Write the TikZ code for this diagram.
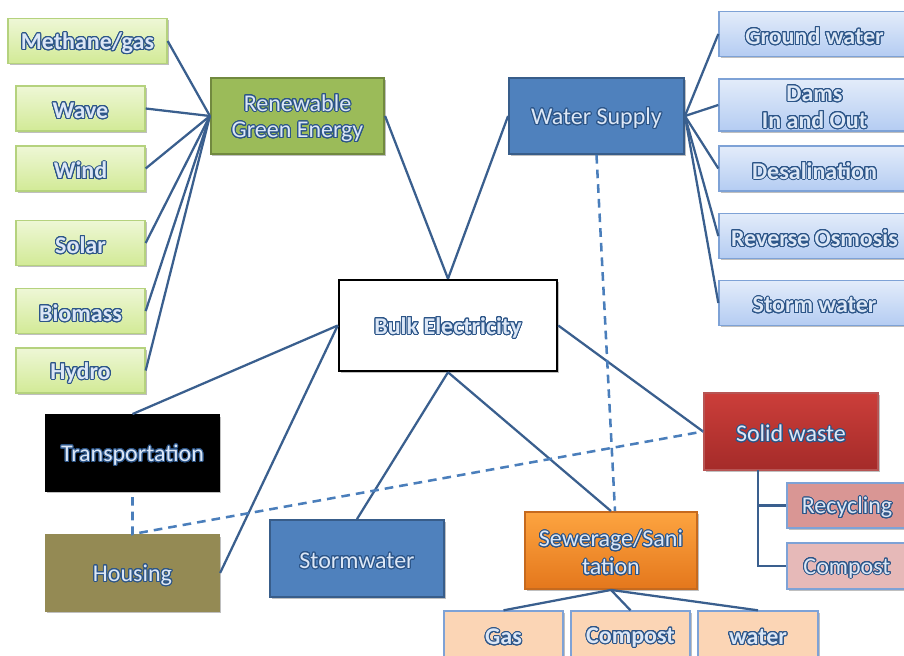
\documentclass[tikz,border=0pt]{standalone}
\usepackage{fontspec}
\setmainfont{Carlito}
\usepackage{contour}
\usetikzlibrary{shadows}
\contourlength{0.75pt}
\contournumber{24}

\definecolor{linkblue}{HTML}{3A5F8E}
\definecolor{dashblue}{HTML}{4A7EBB}
\definecolor{txtedge}{HTML}{2C5588}
\definecolor{txtfill}{HTML}{DCE7F6}
\definecolor{greenD}{HTML}{9BBB59}
\definecolor{greenDb}{HTML}{71893F}
\definecolor{greenLt}{HTML}{EEF7D6}
\definecolor{greenLb}{HTML}{D2EA96}
\definecolor{greenLe}{HTML}{B5D27E}
\definecolor{blueD}{HTML}{4F81BD}
\definecolor{blueDb}{HTML}{385D8A}
\definecolor{blueLt}{HTML}{E3ECFA}
\definecolor{blueLb}{HTML}{B4CCF2}
\definecolor{blueLe}{HTML}{7EA2D6}
\definecolor{olive}{HTML}{948A54}
\definecolor{redT}{HTML}{CB3E3A}
\definecolor{redB}{HTML}{A52B29}
\definecolor{orangeT}{HTML}{FDA440}
\definecolor{orangeB}{HTML}{E4771C}
\definecolor{orangeE}{HTML}{C66A1E}
\definecolor{pinkD}{HTML}{D99694}
\definecolor{pinkL}{HTML}{E6B9B8}
\definecolor{peach}{HTML}{FBD5B5}

% outlined label text, drawn a little low while keeping its box size
\newcommand\ctext[1]{\raisebox{-2pt}[\height][\depth]{\contour{txtedge}{\textcolor{txtfill}{#1}}}}

\tikzset{
  box/.style={rectangle, inner sep=0pt, align=center,
    font=\fontsize{18}{22}\selectfont,
    drop shadow={shadow xshift=1.2pt, shadow yshift=-1.2pt, opacity=0.25, fill=black}},
  lightbox/.style={box, font=\fontsize{18}{22}\selectfont\bfseries},
  greenleaf/.style={lightbox, top color=greenLt, bottom color=greenLb, draw=greenLe, line width=1pt,
    minimum width=96.75pt, minimum height=33.75pt},
  blueleaf/.style={lightbox, top color=blueLt, bottom color=blueLb, draw=blueLe, line width=1pt,
    minimum width=143.25pt, minimum height=33.75pt},
  hubbox/.style={box, line width=1.4pt, minimum width=130pt, minimum height=57pt},
  peachbox/.style={lightbox, fill=peach, draw=blueLe, line width=1pt,
    minimum width=90pt, minimum height=36pt},
  link/.style={draw=linkblue, line width=1.7pt},
  dlink/.style={draw=dashblue, line width=1.9pt, dash pattern=on 6.5pt off 4.5pt},
}

\begin{document}
\begin{tikzpicture}[x=0.75pt, y=-0.75pt]
\useasboundingbox (0,0) rectangle (904,656);

% renewable sources
\node[greenleaf, minimum width=119.25pt] (meth) at (87.5,41) {\ctext{Methane/gas}};
\node[greenleaf] (wave) at (80.5,108.5) {\ctext{Wave}};
\node[greenleaf] (wind) at (80.5,168.5) {\ctext{Wind}};
\node[greenleaf] (solar) at (80.5,243) {\ctext{Solar}};
\node[greenleaf] (bio) at (80.5,311) {\ctext{Biomass}};
\node[greenleaf] (hydro) at (80.5,370.5) {\ctext{Hydro}};

% hubs
\node[hubbox, fill=greenD, draw=greenDb] (rge) at (297.5,116)
  {\ctext{Renewable}\\[-2pt]\ctext{Green Energy}};
\node[hubbox, fill=blueD, draw=blueDb, minimum width=131.25pt] (ws) at (596.5,116)
  {\ctext{Water Supply}};

% water sources
\node[blueleaf] (gw) at (814.5,34) {\ctext{Ground water}};
\node[blueleaf, minimum height=39pt] (dams) at (814.5,105) {\ctext{Dams}\\[-2pt]\ctext{In and Out}};
\node[blueleaf] (desal) at (814.5,168.5) {\ctext{Desalination}};
\node[blueleaf] (ro) at (814.5,236) {\ctext{Reverse Osmosis}};
\node[blueleaf] (sw) at (814.5,303) {\ctext{Storm water}};

% centre
\node[box, fill=white, draw=black, line width=1.9pt, minimum width=163.5pt, minimum height=68.25pt,
  font=\fontsize{18}{22}\selectfont\bfseries] (bulk) at (448,325.5) {\ctext{Bulk Electricity}};

% lower nodes
\node[hubbox, fill=black, draw=black] (trans) at (132.5,453) {\ctext{Transportation}};
\node[hubbox, fill=olive, draw=olive] (house) at (132.5,573) {\ctext{Housing}};
\node[hubbox, fill=blueD, draw=blueDb, minimum width=130.5pt, minimum height=57.75pt] (storm) at (357,558.5)
  {\ctext{Stormwater}};
\node[hubbox, top color=redT, bottom color=redB, draw=redB!80, minimum width=130.5pt, minimum height=57.75pt]
  (solid) at (791,431.5) {\ctext{Solid waste}};
\node[hubbox, top color=orangeT, bottom color=orangeB, draw=orangeE, minimum width=129pt, minimum height=57.75pt]
  (sew) at (611,550.5) {\ctext{Sewerage/Sani}\\[-1pt]\ctext{tation}};

% solid waste outputs
\node[lightbox, fill=pinkD, draw=blueLe, line width=1pt, minimum width=90pt, minimum height=33.75pt,
  font=\fontsize{18}{22}\selectfont] (recy) at (847,505.5) {\ctext{Recycling}};
\node[lightbox, fill=pinkL, draw=blueLe, line width=1pt, minimum width=90pt, minimum height=34.5pt,
  font=\fontsize{18}{22}\selectfont] (comp1) at (847,566) {\ctext{Compost}};

% sewerage outputs
\node[peachbox, minimum width=89.25pt] (gas) at (503.5,635) {\ctext{Gas}};
\node[peachbox, minimum width=89.25pt] (comp2) at (630.5,635) {\ctext{Compost}};
\node[peachbox] (water) at (758,635) {\ctext{water}};

% connectors
\foreach \n in {meth,wave,wind,solar,bio,hydro}
  \draw[link] (\n.east) -- (rge.west);
\draw[link] (rge.east) -- (bulk.north);
\draw[link] (ws.west) -- (bulk.north);
\foreach \n in {gw,dams,desal,ro,sw}
  \draw[link] (ws.east) -- (\n.west);
\draw[link] (bulk.west) -- (trans.north);
\draw[link] (bulk.west) -- (house.east);
\draw[link] (bulk.south) -- (storm.north);
\draw[link] (bulk.south) -- (sew.north);
\draw[link] (bulk.east) -- (solid.west);

\coordinate (sdrop) at (758,470);
\draw[link] (sdrop) |- (recy.west);
\draw[link] (sdrop) |- (comp1.west);

\foreach \n in {gas,comp2,water}
  \draw[link] (sew.south) -- (\n.north);

% dashed relations
\coordinate (tgap) at (132.5,497);
\draw[dlink] (ws.south) -- ([xshift=3pt]sew.north);
\draw[dlink] (tgap) -- (house.north) -- (solid.west);
\end{tikzpicture}
\end{document}
